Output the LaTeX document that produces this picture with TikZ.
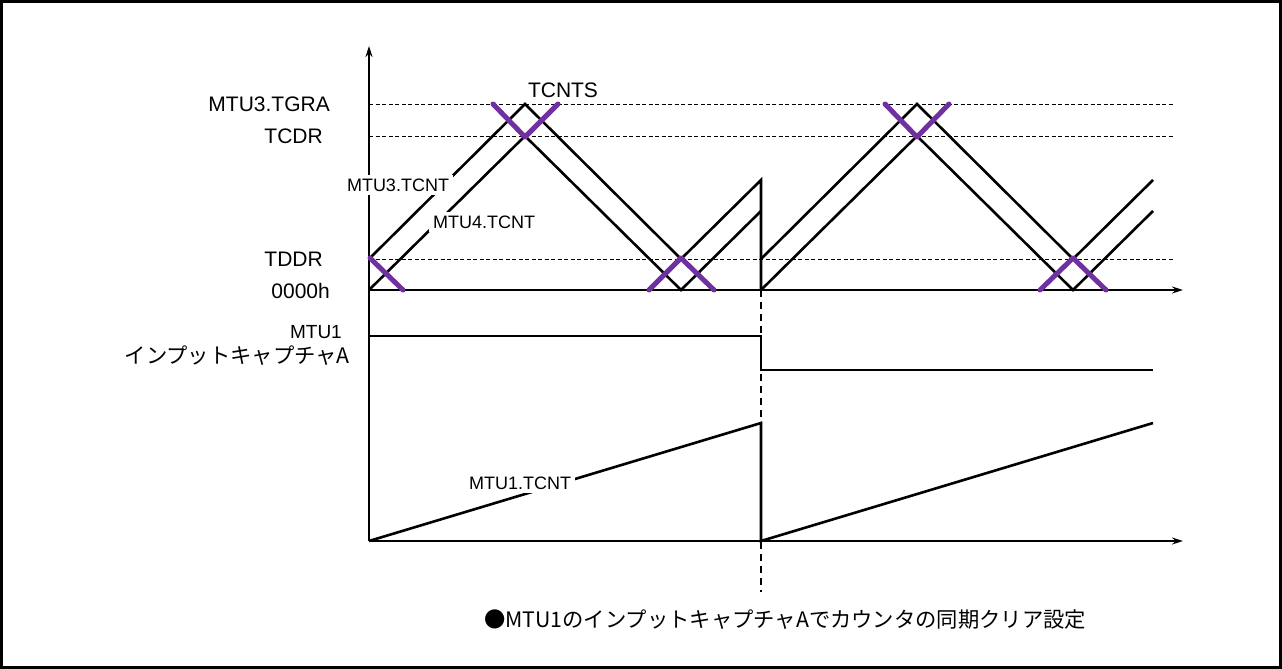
\documentclass[tikz,border=0pt]{standalone}
\usepackage{fontspec}
\setmainfont{Liberation Sans}
\newfontfamily\jpfont{Noto Sans CJK JP}
\usepackage{tikz}
\usetikzlibrary{
  arrows.meta,
  positioning
}
\definecolor{markpurple}{RGB}{112,48,160}

\begin{document}
\begin{tikzpicture}[x=1pt,y=-1pt,
    axis/.style={line width=1.5pt,-{Stealth[length=11pt,width=7pt]}},
    level/.style={line width=1pt,dash pattern=on 4pt off 2.5pt},
    wave/.style={line width=2.6pt,line join=miter},
    xmark/.style={markpurple,line width=5pt,line cap=round,line join=round},
    lbl/.style={font=\fontsize{21}{25}\selectfont,inner sep=0pt},
    cntlbl/.style={font=\fontsize{18}{21}\selectfont,fill=white,inner sep=4pt},
    jplbl/.style={font=\jpfont\fontsize{21.3}{25}\selectfont,inner sep=0pt}]
    \useasboundingbox (0,0) rectangle (1282,669);
    % Frame
    \draw[line width=2.5pt] (1.5,1.5) rectangle (1280.5,667.5);

    % Sync clear line
    \draw[line width=1.3pt,dash pattern=on 7pt off 5pt] (761,290) -- (761,592);

    % Compare levels
    \draw[level] (369,104) -- (1173,104);
    \draw[level] (369,136) -- (1173,136);
    \draw[level] (369,259) -- (1173,259);
    \node[lbl,anchor=east] (tgra) at (330,104) {MTU3.TGRA};
    \node[lbl,anchor=east] (tcdr) at (323,136) {TCDR};
    \node[lbl,anchor=east] (tddr) at (323,259) {TDDR};
    \node[lbl,anchor=east] (zero) at (330,291) {0000h};
    \node[lbl] (tcnts) at (563,90) {TCNTS};

    % Axes
    \draw[axis] (369,541) -- (369,46);
    \draw[axis] (369,290) -- (1183,290);
    \draw[axis] (369,541) -- (1183,541);

    % MTU3.TCNT and MTU4.TCNT
    \draw[wave] (369,259) -- (525,104) -- (681,259) -- (761,180) -- (761,290);
    \draw[wave] (369,290) -- (525,136) -- (681,290) -- (761,211);
    \draw[wave] (761,259) -- (917,104) -- (1073,259) -- (1153,180);
    \draw[wave] (761,290) -- (917,136) -- (1073,290) -- (1153,211);
    \node[cntlbl] (tcnt3) at (398,185) {MTU3.TCNT};
    \node[cntlbl] (tcnt4) at (484,222) {MTU4.TCNT};

    % Dead time marks
    \draw[xmark] (370,258) -- (403,290);
    \draw[xmark] (493,104) -- (525,137) -- (558,104);
    \draw[xmark] (649,290) -- (681,258) -- (714,290);
    \draw[xmark] (885,104) -- (917,137) -- (949,104);
    \draw[xmark] (1040,290) -- (1073,258) -- (1106,290);

    % MTU1 input capture A
    \draw[wave] (369,336) -- (761,336) -- (761,370) -- (1153,370);
    \node[lbl,anchor=east,font=\fontsize{19}{22}\selectfont] (mtu1) at (342,332) {MTU1};
    \node[jplbl,anchor=east] (capa) at (350,356) {インプットキャプチャA};

    % MTU1.TCNT
    \draw[wave] (369,541) -- (761,423) -- (761,541) -- (1153,423);
    \node[cntlbl] (tcnt1) at (520,483) {MTU1.TCNT};

    % Note
    \node[jplbl] (note) at (785,620) {●MTU1のインプットキャプチャAでカウンタの同期クリア設定};
\end{tikzpicture}
\end{document}
